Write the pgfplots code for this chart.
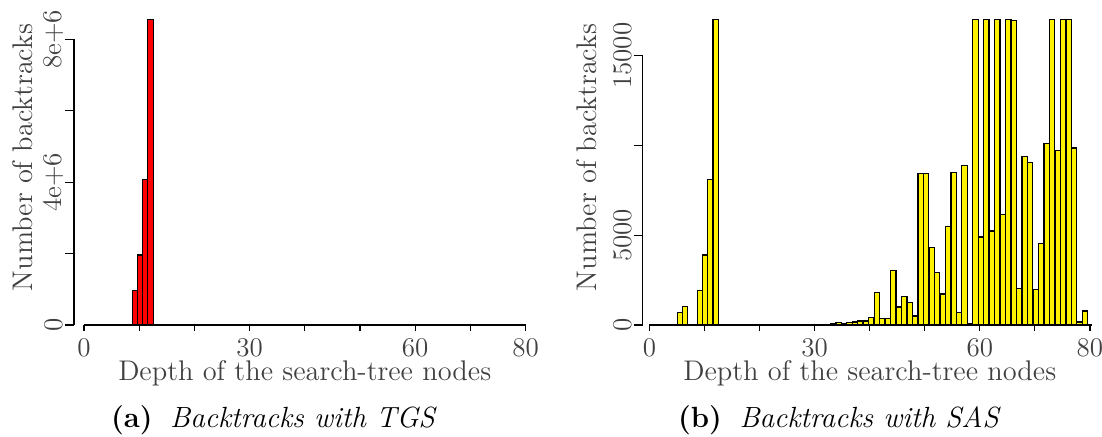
\documentclass[border=0pt]{standalone}
\usepackage{pgfplots}
\pgfplotsset{compat=1.18}
\definecolor{axtext}{gray}{0.25}
\pgfplotsset{
  rhist/.style={
    scale only axis, clip=false,
    axis lines*=left, axis line style={draw=none},
    tick align=outside, major tick length=4.5pt,
    xtick style={/pgfplots/major tick length=3pt, line width=0.6pt, black},
    ytick style={line width=0.6pt, black},
    xtick={0,10,20,30,40,50,60,70,80},
    xticklabels={0,,,30,,,60,,80},
    scaled ticks=false,
    xticklabel style={font=\fontsize{13.5}{16}\selectfont, text=axtext, inner sep=0pt, yshift=-2pt},
    yticklabel style={font=\fontsize{13.5}{16}\selectfont, text=axtext, rotate=90, anchor=south, inner sep=0.6pt},
    label style={font=\fontsize{14.2}{17}\selectfont, text=axtext},
    ymin=0, xmax=80.8,
    height=152.8pt,
  },
  bars/.style={ybar, bar shift=0pt, draw=black, line width=0.6pt},
}
\begin{document}
\begin{tikzpicture}
\useasboundingbox (0,0) rectangle (551pt,-218pt);
% ---------- (a) TGS ----------
\begin{axis}[rhist,
  at={(37pt,-162.5pt)}, anchor=south west,
  width=228pt, xmin=-1.81, ymax=8.56e6,
  ytick={0,2e6,4e6,6e6,8e6}, yticklabels={0,,4e+6,,8e+6},
  xlabel={Depth of the search-tree nodes},
  xlabel style={at={(axis description cs:0.506,0)}, anchor=north, inner sep=0pt, yshift=-17.5pt},
  ylabel={Number of backtracks},
  ylabel style={at={([xshift=-25.75pt]axis description cs:0,0.548)}, anchor=center, inner sep=0pt},
]
\addplot[bars, bar width=0.95, fill=red] coordinates {
 (9.20,0.961e6) (10.13,1.96e6) (11.08,4.08e6) (12.05,8.55e6)};
\draw[line width=0.6pt] (axis cs:0,0) -- (axis cs:80,0);
\draw[line width=0.6pt] (axis cs:-1.81,0) -- (axis cs:-1.81,8e6);
\end{axis}
% ---------- (b) SAS ----------
\begin{axis}[rhist,
  at={(321.25pt,-162.5pt)}, anchor=south west,
  width=225.9pt, xmin=-1.27, ymax=17023,
  ytick={0,5000,10000,15000}, yticklabels={0,5000,,15000},
  xlabel={Depth of the search-tree nodes},
  xlabel style={at={(axis description cs:0.503,0)}, anchor=north, inner sep=0pt, yshift=-17.5pt},
  ylabel={Number of backtracks},
  ylabel style={at={([xshift=-27.9pt]axis description cs:0,0.548)}, anchor=center, inner sep=0pt},
]
\addplot[bars, bar width=0.96, fill=yellow] coordinates {
 (5.53,687) (6.47,1021) (9.16,1912) (10.11,3898) (11.07,8111) (12.02,17000)
 (28.40,40) (30.40,40)
 (33.34,93) (34.34,130) (35.33,74) (36.33,130) (37.32,167) (38.32,223)
 (39.31,223) (40.31,427) (41.30,1800) (42.30,353) (43.29,353) (44.29,3025)
 (45.28,1002) (46.28,1596) (47.27,1262) (48.27,501) (49.26,8445) (50.26,8445)
 (51.25,4306) (52.25,2932) (53.24,1726) (54.23,5494) (55.23,8500) (56.22,705)
 (57.22,8872) (58.21,93) (59.21,17000) (60.20,4900) (61.20,17000) (62.19,5234)
 (63.19,17000) (64.18,6143) (65.18,17000) (66.17,16950) (67.17,2023) (68.16,9373)
 (69.16,9057) (70.15,1967) (71.15,4547) (72.14,10096) (73.14,17000) (74.13,9725)
 (75.13,17000) (76.12,17000) (77.12,9855) (78.11,167) (79.11,780)};
\draw[line width=0.6pt] (axis cs:0,0) -- (axis cs:80.3,0);
\draw[line width=0.6pt] (axis cs:-1.27,0) -- (axis cs:-1.27,15000);
\end{axis}
% ---------- captions ----------
\node[anchor=base, inner sep=0pt, font=\fontsize{14.6}{17}\selectfont] at (137pt,-213.5pt)
  {\textbf{(a)}\hspace{0.6em}\textit{Backtracks with TGS}};
\node[anchor=base, inner sep=0pt, font=\fontsize{14.6}{17}\selectfont] at (419.75pt,-213.5pt)
  {\textbf{(b)}\hspace{0.6em}\textit{Backtracks with SAS}};
\end{tikzpicture}
\end{document}
